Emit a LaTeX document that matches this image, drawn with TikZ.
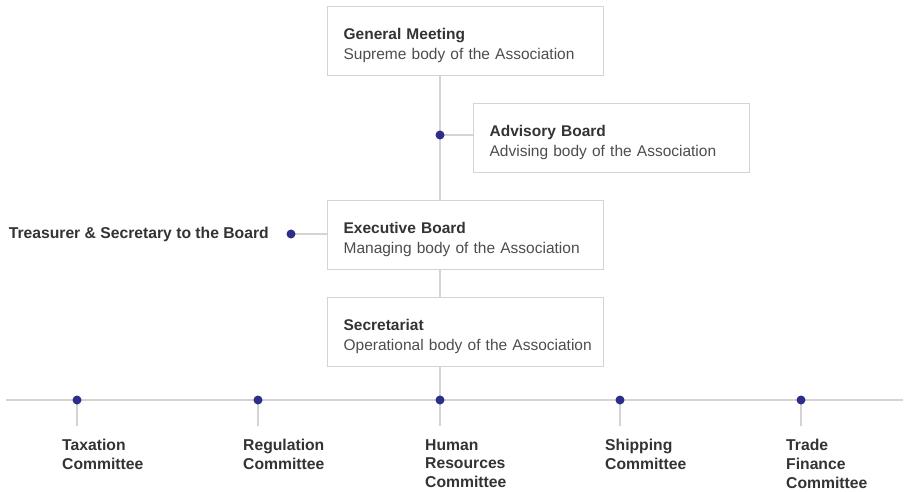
\documentclass[tikz,border=0pt]{standalone}
\usepackage{fontspec}
\setmainfont{Liberation Sans}

\definecolor{linegray}{HTML}{D4D4D4}
\definecolor{dotblue}{HTML}{2E2E8A}
\definecolor{textdark}{HTML}{333333}
\definecolor{textgray}{HTML}{4D4D4D}

% title line and one-line description of a board
\newcommand{\board}[2]{\rule{0pt}{20pt}\textbf{\color{textdark}#1}\\\mbox{#2}}

\tikzset{
	body/.style={draw=linegray, line width=1.2pt, anchor=north west, minimum width=276pt, minimum height=69pt, text width=244pt, inner xsep=16pt, align=left, text=textgray, font=\fontsize{15.5}{19.5}\selectfont},
	committee/.style={anchor=north west, align=left, inner sep=0pt, text=textdark, font=\bfseries\fontsize{15.7}{18.8}\selectfont},
	link/.style={draw=linegray, line width=1.2pt},
	joint/.style={circle, fill=dotblue, inner sep=0pt, minimum size=9pt}
}

\begin{document}
\begin{tikzpicture}[x=1pt, y=-1pt]
	\useasboundingbox (0,0) rectangle (908,491);
	% boards
	\node [body] (gm) at (327,6) {\board{General Meeting}{Supreme body of the Association}};
	\node [body] (adv) at (473,103) {\board{Advisory Board}{Advising body of the Association}};
	\node [body] (ex) at (327,200) {\board{Executive Board}{Managing body of the Association}};
	\node [body] (sec) at (327,297) {\board{Secretariat}{Operational body of the Association}};
	\node [committee, anchor=east] (ts) at (269,234) {Treasurer \& Secretary to the Board};

	% spine and side branches
	\coordinate (advdot) at (440,135);
	\coordinate (tsdot) at (291,234);
	\coordinate (hrdot) at (440,400);
	\draw [link] (gm.south -| advdot) -- (ex.north -| advdot);
	\draw [link] (ex.south -| advdot) -- (sec.north -| advdot);
	\draw [link] (sec.south -| advdot) -- (hrdot);
	\draw [link] (advdot) -- (advdot -| adv.west);
	\draw [link] (tsdot) -- (tsdot -| ex.west);
	\node [joint] at (advdot) {};
	\node [joint] at (tsdot) {};

	% committees
	\coordinate (bus-w) at (6,400);
	\coordinate (bus-e) at (903,400);
	\draw [link] (bus-w) -- (bus-e);
	\foreach \x/\name/\txt in {77/tax/Taxation\\Committee, 258/reg/Regulation\\Committee, 440/hr/Human\\Resources\\Committee, 620/ship/Shipping\\Committee, 801/trade/Trade\\Finance\\Committee} {
		\coordinate (\name-dot) at (\x,400);
		\coordinate (\name-tick) at (\x,426);
		\draw [link] (\name-dot) -- (\name-tick);
		\node [joint] at (\name-dot) {};
		\node [committee] (\name) at (\x-15,439) {\txt};
	}
\end{tikzpicture}
\end{document}
